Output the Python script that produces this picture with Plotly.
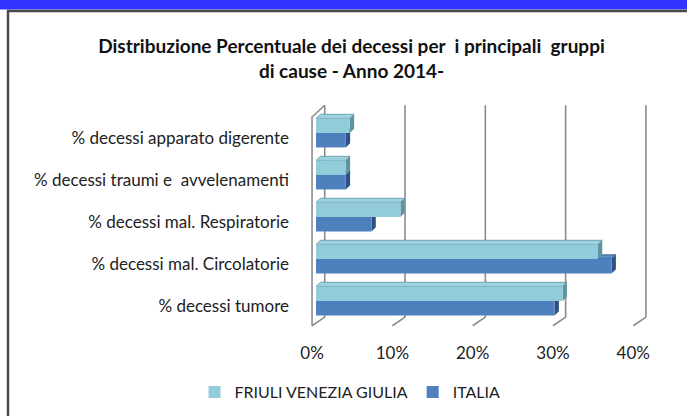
import plotly.graph_objects as go

# ---------------- data ----------------
categories = [
    "% decessi apparato digerente",
    "% decessi traumi e\u00a0 avvelenamenti",
    "% decessi mal. Respiratorie",
    "% decessi mal. Circolatorie",
    "% decessi tumore",
]
fvg = [4.2, 3.7, 10.5, 35.1, 30.7]      # FRIULI VENEZIA GIULIA (%)
italia = [3.7, 3.7, 6.9, 36.8, 29.7]    # ITALIA (%)
tick_vals = [0, 10, 20, 30, 40]
tick_text = ["0%", "10%", "20%", "30%", "40%"]
series_names = ["FRIULI VENEZIA GIULIA", "ITALIA"]

# ---------------- style ----------------
W, H = 687, 416
L, T = 300, 104
PW, PH = 353, 223
XR = [-2, -2 + PW / 8.03]
YR = [-0.62, 4.69]
FONT = "Lato"
C_LIGHT, C_LIGHT_TOP, C_LIGHT_SIDE = "#92CBDA", "#9DD1DF", "#5E949F"
C_DARK, C_DARK_TOP, C_DARK_SIDE = "#4F80BE", "#5A8CC8", "#2C5282"
GRID = "#8C8C8C"
BARGAP = 0.31
DX, DY = 0.54, 0.10          # pseudo-3D depth of bars (data units)
BACK_DX, FRONT_DX = 1.08, -0.5
FLOOR_FRONT, FLOOR_BACK, WALL_TOP = -0.59, -0.386, 4.66

order = categories[::-1]     # bottom -> top
pos = {c: i for i, c in enumerate(order)}

fig = go.Figure()
fig.add_trace(go.Bar(y=categories, x=italia, orientation="h", name=series_names[1],
                     marker=dict(color=C_DARK, line=dict(width=0)), legendrank=2))
fig.add_trace(go.Bar(y=categories, x=fvg, orientation="h", name=series_names[0],
                     marker=dict(color=C_LIGHT, line=dict(width=0)), legendrank=1))

shapes = []
# back wall gridlines + floor diagonals
for g in tick_vals:
    shapes.append(dict(type="path", xref="x", yref="y", layer="below",
                       path=f"M{g+FRONT_DX},{FLOOR_FRONT} L{g+BACK_DX},{FLOOR_BACK} L{g+BACK_DX},{WALL_TOP}",
                       line=dict(color=GRID, width=1.6)))
# left side wall
shapes.append(dict(type="path", xref="x", yref="y", layer="below",
                   path=f"M{FRONT_DX},{FLOOR_FRONT} L{FRONT_DX},4.38 L{BACK_DX},{WALL_TOP}",
                   line=dict(color=GRID, width=1.6)))

bw = (1 - BARGAP) / 2
for vals, k, ctop, cside in [(italia, 0, C_DARK_TOP, C_DARK_SIDE), (fvg, 1, C_LIGHT_TOP, C_LIGHT_SIDE)]:
    for cat, v in zip(categories, vals):
        c = pos[cat]
        y0 = c - bw + k * bw
        y1 = y0 + bw
        # top face
        shapes.append(dict(type="path", xref="x", yref="y", layer="below",
                           path=f"M0,{y1} L{v},{y1} L{v+DX},{y1+DY} L{DX},{y1+DY} Z",
                           fillcolor=ctop, line=dict(color=cside, width=0.8)))
        # side face
        shapes.append(dict(type="path", xref="x", yref="y", layer="below",
                           path=f"M{v},{y0} L{v},{y1} L{v+DX},{y1+DY} L{v+DX},{y0+DY} Z",
                           fillcolor=cside, line=dict(width=0)))

# frame decorations (paper coords from pixel positions)
def px(xp):
    return (xp - L) / PW
def py(yp):
    return (T + PH - yp) / PH

shapes.append(dict(type="rect", xref="paper", yref="paper", x0=px(-5), x1=px(W + 5), y0=py(0 - 5), y1=py(9.5),
                   fillcolor="#3333FF", line=dict(width=0), layer="above"))
shapes.append(dict(type="line", xref="paper", yref="paper", x0=px(8), x1=px(8), y0=py(10.5), y1=py(H + 5),
                   line=dict(color="#4A4A4A", width=2.5), layer="above"))
shapes.append(dict(type="line", xref="paper", yref="paper", x0=px(7), x1=px(W + 5), y0=py(11), y1=py(11),
                   line=dict(color="#4A4A4A", width=2.5), layer="above"))

fig.update_layout(
    width=W, height=H,
    margin=dict(l=L, r=W - L - PW, t=T, b=H - T - PH, autoexpand=False),
    paper_bgcolor="white", plot_bgcolor="white",
    barmode="group", bargap=BARGAP, bargroupgap=0,
    font=dict(family=FONT, size=17, color="#222222"),
    title=dict(text="<b>Distribuzione Percentuale dei decessi per  i principali  gruppi<br>di cause - Anno 2014-</b>",
               xref="container", yref="container", x=351.5 / W, y=1 - 53 / H,
               xanchor="center", yanchor="middle",
               font=dict(family=FONT, size=19, color="#111111")),
    xaxis=dict(range=XR, tickvals=tick_vals, ticktext=tick_text, showgrid=False, zeroline=False,
               showline=False, ticks="", ticklabelshift=-4, ticklabelstandoff=14,
               tickfont=dict(size=17), fixedrange=True),
    yaxis=dict(range=YR, type="category", categoryorder="array", categoryarray=order,
               showgrid=False, zeroline=False, showline=False, ticks="", ticklabelstandoff=10,
               ticklabelshift=5, tickfont=dict(size=17), fixedrange=True),
    legend=dict(orientation="h", x=px(350), y=py(392), xanchor="center", yanchor="middle",
                traceorder="normal", font=dict(size=16), bgcolor="rgba(0,0,0,0)"),
    shapes=shapes,
)

fig.write_html("out.html", config={"displayModeBar": False},
               post_script="document.body.style.margin='0';document.body.style.padding='0';")
